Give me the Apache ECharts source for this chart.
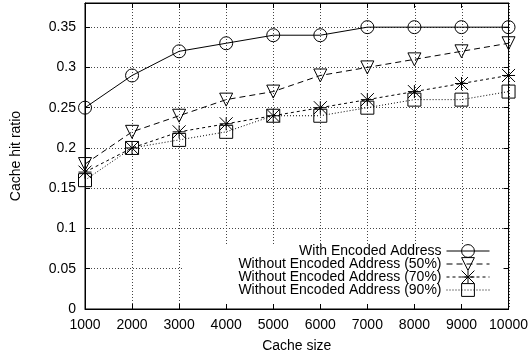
<!DOCTYPE html>
<html>
<head>
<meta charset="utf-8">
<script src="https://cdn.jsdelivr.net/npm/echarts@6/dist/echarts.min.js"></script>
<style>html,body{margin:0;padding:0;background:#fff;}#chart{width:531px;height:360px;}</style>
</head>
<body>
<div id="chart"></div>
<script>
const cacheSizes = [1000, 2000, 3000, 4000, 5000, 6000, 7000, 8000, 9000, 10000];
const withEncoded = [0.25, 0.29, 0.32, 0.33, 0.34, 0.34, 0.35, 0.35, 0.35, 0.35];
const without50 = [0.18, 0.22, 0.24, 0.26, 0.27, 0.29, 0.30, 0.31, 0.32, 0.33];
const without70 = [0.17, 0.20, 0.22, 0.23, 0.24, 0.25, 0.26, 0.27, 0.28, 0.29];
const without90 = [0.16, 0.20, 0.21, 0.22, 0.24, 0.24, 0.25, 0.26, 0.26, 0.27];
const seriesNames = ['With Encoded Address', 'Without Encoded Address (50%)', 'Without Encoded Address (70%)', 'Without Encoded Address (90%)'];
const xTitle = 'Cache size';
const yTitle = 'Cache hit ratio';

const FONT = 'Liberation Sans, Arial, sans-serif';
const chart = echarts.init(document.getElementById('chart'), null, {renderer: 'canvas'});
const gridBox = {left: 85, right: 22, top: 3, bottom: 51};
const xBase = {type: 'value', min: 1000, max: 10000, interval: 1000};
const yBase = {type: 'value', min: 0, max: 0.38, interval: 0.05};
const tickStyle = {show: true, inside: true, length: 5, lineStyle: {color: '#000', width: 1}};

function pairs(vals) { return cacheSizes.map((x, i) => [x, vals[i]]); }
const symbols = [
  'circle',
  'path://M0,0L10,0L5,10Z',
  'path://M0,0L10,10M10,0L0,10M5,0L5,10M0,5L10,5',
  'rect'
];
const dashes = ['solid', [6, 4], [3, 3], [1, 2]];
const allData = [withEncoded, without50, without70, without90];

const series = allData.map((vals, i) => ({
  name: seriesNames[i],
  type: 'line',
  xAxisIndex: 1,
  yAxisIndex: 1,
  data: pairs(vals),
  symbol: symbols[i],
  symbolSize: 13,
  z: 3,
  animation: false,
  lineStyle: {color: '#000', width: 1, type: dashes[i]},
  itemStyle: {color: 'rgba(0,0,0,0)', borderColor: '#000', borderWidth: 1}
}));

chart.setOption({
  animation: false,
  textStyle: {fontFamily: FONT},
  grid: [Object.assign({}, gridBox), Object.assign({}, gridBox, {show: true, borderColor: '#000', borderWidth: 1, z: 5})],
  graphic: [{type: 'rect', z: 1, shape: {x: 182, y: 244, width: 325, height: 64}, style: {fill: '#fff'}}],
  xAxis: [
    Object.assign({}, xBase, {gridIndex: 0, axisLabel: {show: false}, axisTick: {show: false}, axisLine: {show: false},
      splitLine: {show: true, lineStyle: {color: '#444', width: 1, type: [1, 2]}}}),
    Object.assign({}, xBase, {gridIndex: 1, position: 'bottom', z: 5, splitLine: {show: false},
      axisLine: {show: true, onZero: false, lineStyle: {color: '#000', width: 1}}, axisTick: tickStyle,
      axisLabel: {color: '#000', fontSize: 14, margin: 9, fontFamily: FONT, formatter: v => String(v)},
      name: xTitle, nameLocation: 'middle', nameGap: 30, nameTextStyle: {color: '#000', fontSize: 14, fontFamily: FONT}}),
    Object.assign({}, xBase, {gridIndex: 1, position: 'top', z: 5, splitLine: {show: false},
      axisLine: {show: true, onZero: false, lineStyle: {color: '#000', width: 1}}, axisTick: tickStyle, axisLabel: {show: false}})
  ],
  yAxis: [
    Object.assign({}, yBase, {gridIndex: 0, axisLabel: {show: false}, axisTick: {show: false}, axisLine: {show: false},
      splitLine: {show: true, lineStyle: {color: '#444', width: 1, type: [1, 2]}}}),
    Object.assign({}, yBase, {gridIndex: 1, position: 'left', z: 5, splitLine: {show: false},
      axisLine: {show: true, onZero: false, lineStyle: {color: '#000', width: 1}}, axisTick: tickStyle,
      axisLabel: {color: '#000', fontSize: 14, margin: 9, fontFamily: FONT, showMaxLabel: false},
      name: yTitle, nameLocation: 'middle', nameGap: 62, nameTextStyle: {color: '#000', fontSize: 14, fontFamily: FONT}}),
    Object.assign({}, yBase, {gridIndex: 1, position: 'right', z: 5, splitLine: {show: false},
      axisLine: {show: true, onZero: false, lineStyle: {color: '#000', width: 1}}, axisTick: tickStyle, axisLabel: {show: false}})
  ],
  legend: {
    orient: 'vertical', right: 41, top: 244, align: 'right', padding: 0,
    itemWidth: 43, itemHeight: 16, itemGap: -1, z: 6,
    lineStyle: {width: 1},
    itemStyle: {borderWidth: 1},
    textStyle: {color: '#000', fontSize: 14, fontFamily: FONT},
    data: seriesNames
  },
  series: series
});
</script>
</body>
</html>
